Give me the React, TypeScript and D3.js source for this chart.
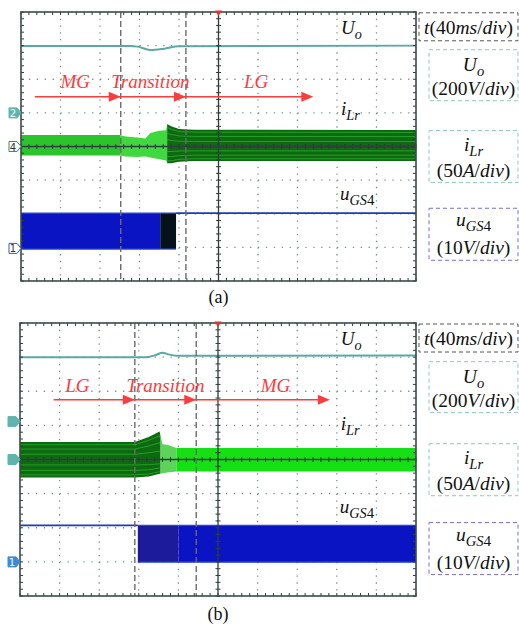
import React from "react";
import * as d3 from "d3";

const W = 519,
  H = 626;
const FONT = '"Liberation Serif", "DejaVu Serif", Times, serif';

// scope: 40 ms/div over 10 div, 8 vertical divisions
const T_MAX = 400;
const DIV_MIN = -4,
  DIV_MAX = 4;

// Uo trace, [ms, div]
const uoA: [number, number][] = [
  [0, 2.99], [110, 2.99], [118, 2.97], [131, 2.87], [145, 2.91], [160, 2.98], [400, 3.0]
];
const uoB: [number, number][] = [
  [0, 3.0], [128, 3.0], [137, 3.06], [144, 3.13], [150, 3.08], [158, 3.04], [400, 3.05]
];

// iLr envelope, [ms, upper div, lower div]
const ilrA: [number, number, number][] = [
  [0, 0.34, -0.27], [100, 0.34, -0.27], [106, 0.3, -0.3], [118, 0.27, -0.31],
  [126, 0.24, -0.3], [131, 0.4, -0.33], [140, 0.47, -0.38], [147, 0.48, -0.42],
  [148, 0.67, -0.5], [152, 0.6, -0.5], [160, 0.52, -0.45], [175, 0.5, -0.43],
  [400, 0.49, -0.43]
];
const ilrB: [number, number, number][] = [
  [0, 0.51, -0.53], [116, 0.51, -0.53], [130, 0.66, -0.5], [141, 0.82, -0.42],
  [144, 0.45, -0.4], [149, 0.43, -0.38], [158, 0.34, -0.35], [400, 0.34, -0.35]
];

// envelope shade per time span [from ms, to ms, shade]
const ilrShadeA: [number, number, string][] = [
  [0, 101, "mid"], [101, 148, "light"], [148, 400, "dark"]
];
const ilrShadeB: [number, number, string][] = [
  [0, 142, "dark"], [142, 158, "pale"], [158, 400, "bright"]
];

// uGS4 segments [from ms, to ms, kind]
const gateA: [number, number, string][] = [
  [0, 141, "switch"], [141, 157, "black"], [157, 400, "off"]
];
const gateB: [number, number, string][] = [
  [0, 119, "off"], [119, 160, "navy"], [160, 400, "switch"]
];
const gateLevelA: [number, number] = [-1.98, -3.05];
const gateLevelB: [number, number] = [-1.93, -3.01];

// cursors (ms)
const cursorsA = [101, 167];
const cursorsB = [116, 178];

// operating modes: [label, centre ms]
const modesA: [string, number][] = [["MG", 55], ["Transition", 131], ["LG", 238]];
const modesB: [string, number][] = [["LG", 58], ["Transition", 147], ["MG", 258]];
// arrow: start then arrowhead tips (ms)
const arrowA = [14, 101, 167, 296];
const arrowB = [34, 116, 178, 313];

// channel reference markers [div, label, style]
const markersA: [number, string, string][] = [[1.0, "2", "teal"], [0, "4", "greenLine"], [-3.03, "1", "blueLine"]];
const markersB: [number, string, string][] = [[1.11, "", "teal"], [0, "", "teal"], [-3.0, "1", "blue"]];

const FILL: Record<string, string> = {
  mid: "#2cc42c",
  light: "#3fd83f",
  bright: "#14e014",
  pale: "#5cd45c",
  dark: "#0e6a10",
  switch: "#0b14c2",
  black: "#05121c",
  navy: "#1b1b9c"
};

type Box = { x0: number; x1: number; y0: number; y1: number };

const Sub = ({ base, sub, tail }: { base: string; sub: string; tail?: string }) => (
  <>
    <tspan fontStyle="italic">{base}</tspan>
    <tspan fontStyle="italic" fontSize="0.75em" dy="5">{sub}</tspan>
    {tail ? <tspan fontSize="0.78em">{tail}</tspan> : null}
  </>
);

function Legend({ y }: { y: (v: number) => number }) {
  const tTop = y(3.56) - 14;
  const uoTop = y(2.12) - 25.5;
  const iTop = y(-0.3) - 26;
  const gTop = y(-2.61) - 26;
  const cx = 473.5;
  return (
    <g style={{ fontFamily: FONT, fontSize: 19.5 }} fill="#111" textAnchor="middle">
      <rect x={419} y={tTop} width={99} height={28} fill="none" stroke="#555" strokeDasharray="4 3" />
      <text x={468.5} y={tTop + 21}>
        <tspan fontStyle="italic">t</tspan>(40<tspan fontStyle="italic">ms</tspan>/<tspan fontStyle="italic">div</tspan>)
      </text>
      <rect x={429} y={uoTop} width={89} height={51} fill="none" stroke="#8ccac2" strokeDasharray="4 3" />
      <text x={cx} y={uoTop + 21}><Sub base="U" sub="o" /></text>
      <text x={cx} y={uoTop + 45}>(200<tspan fontStyle="italic">V</tspan>/<tspan fontStyle="italic">div</tspan>)</text>
      <rect x={429} y={iTop} width={89} height={52} fill="none" stroke="#8ccac2" strokeDasharray="4 3" />
      <text x={cx} y={iTop + 20}><Sub base="i" sub="Lr" /></text>
      <text x={cx} y={iTop + 46}>(50<tspan fontStyle="italic">A</tspan>/<tspan fontStyle="italic">div</tspan>)</text>
      <rect x={429} y={gTop} width={89} height={52} fill="none" stroke="#7070dd" strokeDasharray="4 3" />
      <text x={cx} y={gTop + 18}><Sub base="u" sub="GS" tail="4" /></text>
      <text x={cx} y={gTop + 46}>(10<tspan fontStyle="italic">V</tspan>/<tspan fontStyle="italic">div</tspan>)</text>
    </g>
  );
}

function Panel(p: {
  id: string;
  box: Box;
  uo: [number, number][];
  ilr: [number, number, number][];
  shade: [number, number, string][];
  gate: [number, number, string][];
  gateLevel: [number, number];
  cursors: number[];
  modes: [string, number][];
  arrow: number[];
  modeDiv: number;
  arrowDiv: number;
  markers: [number, string, string][];
  labelDiv: [number, number, number];
  caption: string;
  captionY: number;
}) {
  const { box } = p;
  const x = d3.scaleLinear().domain([0, T_MAX]).range([box.x0, box.x1]);
  const y = d3.scaleLinear().domain([DIV_MIN, DIV_MAX]).range([box.y1, box.y0]);
  const dx = x(40) - x(0);
  const dy = y(0) - y(1);

  const uoLine = d3.line<[number, number]>().x(d => x(d[0])).y(d => y(d[1])).curve(d3.curveMonotoneX);
  const env = d3
    .area<[number, number, number]>()
    .x(d => x(d[0]))
    .y1(d => y(d[1]))
    .y0(d => y(d[2]));
  const streak = (f: number) =>
    d3.line<[number, number, number]>().x(d => x(d[0])).y(d => y(f > 0 ? d[1] * f : d[2] * -f))(p.ilr) || "";

  const vGrid = d3.range(1, 10).map(i => i * 40).filter(t => t !== 200);
  const hGrid = d3.range(-3, 4).filter(v => v !== 0);
  const minorT = d3.range(0, T_MAX + 0.1, 8);
  const minorV = d3.range(DIV_MIN, DIV_MAX + 0.01, 0.2);
  const [hi, lo] = p.gateLevel;

  return (
    <g>
      <defs>
        {p.shade.map((s, i) => (
          <clipPath id={`${p.id}-c${i}`} key={i}>
            <rect x={x(s[0])} y={box.y0} width={x(s[1]) - x(s[0])} height={box.y1 - box.y0} />
          </clipPath>
        ))}
      </defs>
      {/* dotted graticule */}
      <g stroke="#7d8f8f" strokeWidth={1.3}>
        {vGrid.map(t => (
          <line key={t} x1={x(t)} x2={x(t)} y1={box.y0} y2={box.y1} strokeDasharray={`1.3 ${dy / 5 - 1.3}`} />
        ))}
        {hGrid.map(v => (
          <line key={v} x1={box.x0} x2={box.x1} y1={y(v)} y2={y(v)} strokeDasharray={`1.3 ${dx / 5 - 1.3}`} />
        ))}
      </g>
      {/* iLr envelope */}
      {p.shade.map((s, i) => (
        <g key={i} clipPath={`url(#${p.id}-c${i})`}>
          <path d={env(p.ilr) || ""} fill={FILL[s[2]]} />
          {s[2] === "dark"
            ? [0.85, 0.6, 0.3, -0.3, -0.6, -0.85].map(f => (
                <path key={f} d={streak(f)} fill="none" stroke="#2fb52f" strokeWidth={1} opacity={0.7} />
              ))
            : null}
        </g>
      ))}
      {/* Uo */}
      <path d={uoLine(p.uo) || ""} fill="none" stroke="#5aa9a4" strokeWidth={2} />
      {/* uGS4 */}
      {p.gate.map((g, i) =>
        g[2] === "off" ? (
          <line key={i} x1={x(g[0])} x2={x(g[1])} y1={y(hi)} y2={y(hi)} stroke="#1e3cae" strokeWidth={1.6} />
        ) : (
          <g key={i}>
            <rect x={x(g[0])} y={y(hi)} width={x(g[1]) - x(g[0])} height={y(lo) - y(hi)} fill={FILL[g[2]]} />
            <line x1={x(g[0])} x2={x(g[1])} y1={y(hi)} y2={y(hi)} stroke="#2a4ad0" strokeWidth={1.2} />
            <line x1={x(g[0])} x2={x(g[1])} y1={y(lo)} y2={y(lo)} stroke="#2a4ad0" strokeWidth={1.2} />
          </g>
        )
      )}
      {/* centre crosshair with minor ticks */}
      <g stroke="#2e3c3c" strokeWidth={1}>
        <line x1={x(200)} x2={x(200)} y1={box.y0} y2={box.y1} strokeWidth={1.3} />
        <line x1={box.x0} x2={box.x1} y1={y(0)} y2={y(0)} strokeWidth={1.3} />
        {minorT.map(t => (
          <line key={"a" + t} x1={x(t)} x2={x(t)} y1={y(0) - 2.5} y2={y(0) + 2.5} />
        ))}
        {minorV.map(v => (
          <line key={"b" + v} x1={x(200) - 2.5} x2={x(200) + 2.5} y1={y(v)} y2={y(v)} />
        ))}
        {minorT.map(t => (
          <g key={"c" + t}>
            <line x1={x(t)} x2={x(t)} y1={box.y0} y2={box.y0 + 3} />
            <line x1={x(t)} x2={x(t)} y1={box.y1} y2={box.y1 - 3} />
          </g>
        ))}
        {minorV.map(v => (
          <g key={"d" + v}>
            <line x1={box.x0} x2={box.x0 + 3} y1={y(v)} y2={y(v)} />
            <line x1={box.x1} x2={box.x1 - 3} y1={y(v)} y2={y(v)} />
          </g>
        ))}
      </g>
      {/* cursors */}
      {p.cursors.map(t => (
        <line key={t} x1={x(t)} x2={x(t)} y1={box.y0} y2={box.y1} stroke="#6b6b6b" strokeWidth={1.4} strokeDasharray="6 3" />
      ))}
      {/* frame */}
      <rect x={box.x0} y={box.y0} width={box.x1 - box.x0} height={box.y1 - box.y0} fill="none" stroke="#3b4a4a" strokeWidth={1.6} />
      <path d={`M${x(200) - 3.5},${box.y0 - 1.5}L${x(200) + 3.5},${box.y0 - 1.5}L${x(200)},${box.y0 + 4}Z`} fill="#e8332d" />
      {/* channel markers */}
      {p.markers.map(([v, lab, st], i) => {
        const yy = y(v);
        const x1 = box.x0;
        const fillC = st === "teal" ? "#5fb5ad" : st === "blue" ? "#3a8ad8" : "#fff";
        const strokeC = st === "greenLine" ? "#3a8a5a" : st === "blueLine" ? "#3060b0" : fillC;
        return (
          <g key={i}>
            <path
              d={`M${x1 - 12},${yy - 5}L${x1 - 4},${yy - 5}L${x1},${yy}L${x1 - 4},${yy + 5}L${x1 - 12},${yy + 5}Z`}
              fill={fillC}
              stroke={strokeC}
              strokeWidth={1}
            />
            <text x={x1 - 8} y={yy + 4} style={{ fontFamily: '"DejaVu Sans", sans-serif', fontSize: 10 }} textAnchor="middle" fill={st === "teal" || st === "blue" ? "#fff" : "#333"}>
              {lab}
            </text>
          </g>
        );
      })}
      {/* mode annotations */}
      <g fill="#ff3b3b" style={{ fontFamily: FONT, fontSize: 19, fontStyle: "italic" }} textAnchor="middle">
        {p.modes.map(([m, t]) => (
          <text key={m} x={x(t)} y={y(p.modeDiv)}>{m}</text>
        ))}
      </g>
      <line x1={x(p.arrow[0])} x2={x(p.arrow[p.arrow.length - 1]) - 4} y1={y(p.arrowDiv)} y2={y(p.arrowDiv)} stroke="#ff3b3b" strokeWidth={1.5} />
      {p.arrow.slice(1).map(t => (
        <path
          key={t}
          d={`M${x(t)},${y(p.arrowDiv)}L${x(t) - 12},${y(p.arrowDiv) - 5}L${x(t) - 12},${y(p.arrowDiv) + 5}Z`}
          fill="#ff3b3b"
        />
      ))}
      {/* trace names */}
      <g style={{ fontFamily: FONT, fontSize: 19 }} fill="#111">
        <text x={x(324)} y={y(p.labelDiv[0])}><Sub base="U" sub="o" /></text>
        <text x={x(324)} y={y(p.labelDiv[1])}><Sub base="i" sub="Lr" /></text>
        <text x={x(323)} y={y(p.labelDiv[2])}><Sub base="u" sub="GS" tail="4" /></text>
      </g>
      <Legend y={y} />
      <text x={x(200)} y={p.captionY} style={{ fontFamily: FONT, fontSize: 18 }} textAnchor="middle" fill="#111">
        {p.caption}
      </text>
    </g>
  );
}

export default function App() {
  return (
    <svg width={W} height={H} style={{ position: "absolute", left: 0, top: 0, background: "#fff" }}>
      <rect width={W} height={H} fill="#fff" />
      <Panel
        id="pa"
        box={{ x0: 21, x1: 416, y0: 12, y1: 281 }}
        uo={uoA}
        ilr={ilrA}
        shade={ilrShadeA}
        gate={gateA}
        gateLevel={gateLevelA}
        cursors={cursorsA}
        modes={modesA}
        arrow={arrowA}
        modeDiv={1.74}
        arrowDiv={1.48}
        markers={markersA}
        labelDiv={[3.35, 0.93, -1.6]}
        caption="(a)"
        captionY={303}
      />
      <Panel
        id="pb"
        box={{ x0: 20, x1: 416, y0: 323, y1: 596 }}
        uo={uoB}
        ilr={ilrB}
        shade={ilrShadeB}
        gate={gateB}
        gateLevel={gateLevelB}
        cursors={cursorsB}
        modes={modesB}
        arrow={arrowB}
        modeDiv={1.98}
        arrowDiv={1.75}
        markers={markersB}
        labelDiv={[3.36, 0.85, -1.56]}
        caption="(b)"
        captionY={620}
      />
    </svg>
  );
}
